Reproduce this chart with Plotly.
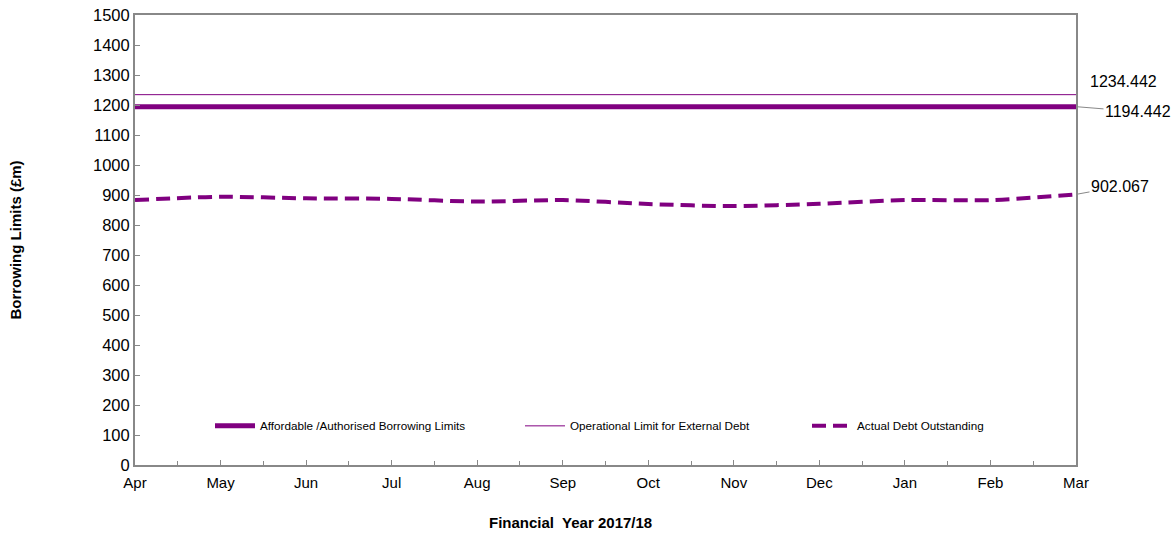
import plotly.graph_objects as go

months = ["Apr", "May", "Jun", "Jul", "Aug", "Sep", "Oct", "Nov", "Dec", "Jan", "Feb", "Mar"]
affordable_limit = [1194.442] * 12
operational_limit = [1234.442] * 12
actual_debt = [883, 894, 889, 887, 878, 883, 870, 863, 871, 883, 883, 902.067]
y_ticks = list(range(0, 1501, 100))

PURPLE = "#800080"
FONT = "Liberation Sans, Arial, sans-serif"
xs = list(range(len(months)))

fig = go.Figure()
fig.add_trace(go.Scatter(x=xs, y=affordable_limit, mode="lines",
                         name="Affordable /Authorised Borrowing Limits",
                         line=dict(color=PURPLE, width=5), legend="legend"))
fig.add_trace(go.Scatter(x=xs, y=operational_limit, mode="lines",
                         name="Operational Limit for External Debt",
                         line=dict(color=PURPLE, width=1), legend="legend2"))
fig.add_trace(go.Scatter(x=xs, y=actual_debt, mode="lines",
                         name="Actual Debt Outstanding",
                         line=dict(color=PURPLE, width=4, dash="14px,7px", shape="spline", smoothing=0.8),
                         legend="legend3"))

last = len(months) - 1
fig.add_annotation(x=last, y=operational_limit[-1], text=f"{operational_limit[-1]:.3f}",
                   showarrow=False, xanchor="left", xshift=12, yshift=13,
                   font=dict(size=16, color="#000000", family=FONT))
fig.add_annotation(x=last, y=affordable_limit[-1], text=f"{affordable_limit[-1]:.3f}",
                   showarrow=True, arrowhead=0, arrowwidth=1, arrowcolor="#888888",
                   ax=62, ay=5, font=dict(size=16, color="#000000", family=FONT))
fig.add_annotation(x=last, y=actual_debt[-1], text=f"{actual_debt[-1]:.3f}",
                   showarrow=True, arrowhead=0, arrowwidth=1, arrowcolor="#888888",
                   ax=44, ay=-8, font=dict(size=16, color="#000000", family=FONT))

fig.add_annotation(xref="paper", yref="paper", x=(570 - 135) / 941, y=-0.127,
                   yanchor="middle", text="<b>Financial  Year 2017/18</b>", showarrow=False,
                   font=dict(size=15, color="#000000", family=FONT))

legend_common = dict(orientation="h", yanchor="middle", xanchor="left", y=0.087,
                     bgcolor="rgba(0,0,0,0)", font=dict(size=11.7, color="#000000", family=FONT),
                     itemwidth=40, tracegroupgap=0)

fig.update_layout(
    width=1175, height=533,
    margin=dict(l=135, r=99, t=15, b=68, autoexpand=False),
    paper_bgcolor="white", plot_bgcolor="white",
    font=dict(family=FONT, size=15, color="#000000"),
    showlegend=True,
    legend=dict(x=(210 - 135) / 941, **legend_common),
    legend2=dict(x=(520 - 135) / 941, **legend_common),
    legend3=dict(x=(807 - 135) / 941, **legend_common),
    xaxis=dict(range=[0, last], tickvals=xs, ticktext=months, ticks="inside", ticklen=5,
               tickcolor="#888888", showgrid=False, zeroline=False, showline=True,
               linecolor="#888888", linewidth=2, mirror=True, ticklabelstandoff=3,
               minor=dict(dtick=0.5, tick0=0, ticks="inside", ticklen=4, tickcolor="#888888", showgrid=False),
               tickfont=dict(size=15, family=FONT, color="#000000")),
    yaxis=dict(range=[0, 1500], tickvals=y_ticks, ticks="inside", ticklen=5,
               tickcolor="#888888", showgrid=False, zeroline=False, showline=True,
               linecolor="#888888", linewidth=2, mirror=True,
               title=dict(text="<b>Borrowing Limits (£m)</b>", standoff=68,
                          font=dict(size=15, family=FONT, color="#000000")),
               tickfont=dict(size=16.5, family=FONT, color="#000000")),
)

fig.write_html("out.html", config={"displayModeBar": False},
               post_script="document.body.style.margin='0px';document.body.style.overflow='hidden';")
